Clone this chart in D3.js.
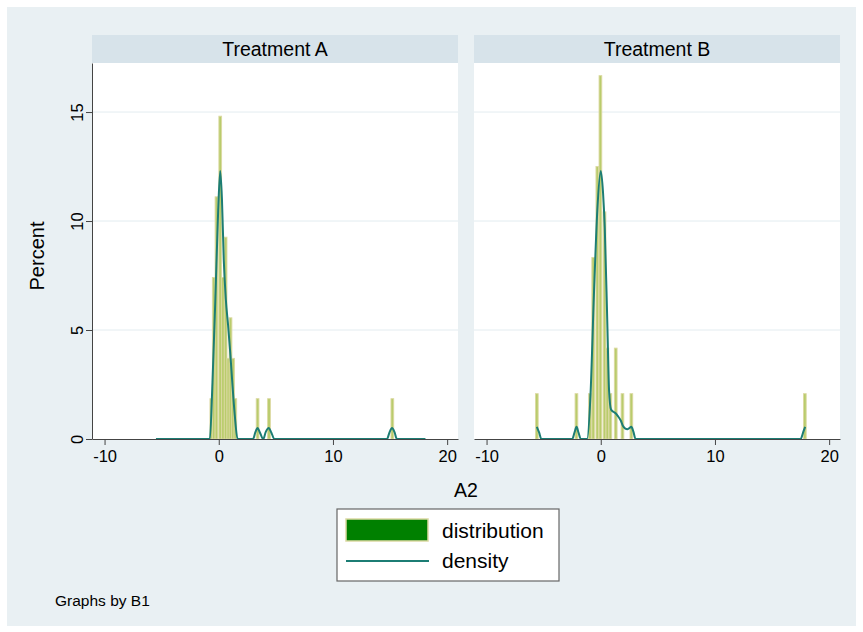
<!DOCTYPE html>
<html>
<head>
<meta charset="utf-8">
<script src="https://cdn.jsdelivr.net/npm/d3@7"></script>
<style>
  body { margin: 0; background: #fff; }
  svg { display: block; font-family: "Liberation Sans", Arial, Helvetica, sans-serif; }
</style>
</head>
<body>
<div id="chart"></div>
<script>
// panels (by B1)
var panels = ['Treatment A', 'Treatment B'];

// histogram bars: bin centre on A2, percent
var barsA = [
    [-0.65, 1.85], [-0.44, 7.41], [-0.2, 11.11], [0.13, 14.81], [0.37, 7.41],
    [0.6, 9.26], [0.84, 3.70], [1.03, 5.56], [1.25, 3.70], [1.45, 1.85],
    [3.4, 1.85], [4.4, 1.85], [15.2, 1.85]
];
var barsB = [
    [-5.6, 2.08], [-2.13, 2.08], [-0.95, 2.08], [-0.66, 8.33], [-0.3, 12.5],
    [-0.03, 16.67], [0.33, 10.42], [0.58, 4.17], [0.84, 2.08], [1.31, 4.17],
    [1.9, 2.08], [2.68, 2.08], [17.87, 2.08]
];

// kernel density (A2, percent scale)
var densA = [
    [-5.5, 0], [-0.78, 0], [-0.55, 2.6], [-0.3, 6.4], [-0.05, 10.5], [0.13, 12.3],
    [0.28, 11.0], [0.44, 8.2], [0.62, 6.4], [0.82, 5.2], [1.0, 4.0], [1.17, 2.7],
    [1.4, 1.1], [1.65, 0], [3.0, 0], [3.2, 0.3], [3.4, 0.5], [3.6, 0.3], [3.9, 0],
    [4.1, 0.3], [4.38, 0.5], [4.6, 0.3], [4.87, 0], [14.73, 0], [14.95, 0.3],
    [15.17, 0.5], [15.4, 0.3], [15.6, 0], [18.1, 0]
];
var densB = [
    [-5.6, 0.56], [-5.4, 0.3], [-5.2, 0], [-2.5, 0], [-2.3, 0.3], [-2.12, 0.56],
    [-1.95, 0.3], [-1.75, 0], [-1.2, 0], [-0.9, 2.0], [-0.6, 6.6], [-0.3, 10.5],
    [0, 12.3], [0.2, 11.3], [0.35, 9.7], [0.58, 5.2], [0.73, 2.2], [0.9, 1.35],
    [1.1, 1.25], [1.3, 1.18], [1.5, 1.05], [1.75, 0.85], [1.95, 0.6], [2.15, 0.48],
    [2.33, 0.45], [2.5, 0.5], [2.68, 0.56], [2.85, 0.35], [3.05, 0], [17.5, 0],
    [17.75, 0.35], [17.9, 0.56]
];

var xTicks = [-10, 0, 10, 20];
var yTicks = [0, 5, 10, 15];
var binWidth = 0.24;
var legendLabels = ['distribution', 'density'];

var width = 863, height = 632;
var plotTop = 63, plotBottom = 439, plotW = 366;
var panelLeft = [92, 474];
var stripTop = 35;

var barFill = '#b9cc6c', barLine = '#dcd9a2', densColor = '#1c7d74';

var svg = d3.select('#chart').append('svg')
    .attr('width', width)
    .attr('height', height);

svg.append('rect')
    .attr('x', 7).attr('y', 7)
    .attr('width', 849).attr('height', 619)
    .attr('fill', '#e9f0f3');

var y = d3.scaleLinear()
    .domain([0, 17.25])
    .range([plotBottom, plotTop]);

var data = [
    {bars: barsA, dens: densA},
    {bars: barsB, dens: densB}
];

panels.forEach(function (name, i) {
    var left = panelLeft[i];
    var x = d3.scaleLinear()
        .domain([-11.1, 20.95])
        .range([left, left + plotW]);

    var g = svg.append('g');

    // strip
    g.append('rect')
        .attr('x', left).attr('y', stripTop)
        .attr('width', plotW).attr('height', plotTop - stripTop)
        .attr('fill', '#d7e3ea');
    g.append('text')
        .attr('x', left + plotW / 2).attr('y', 56)
        .attr('text-anchor', 'middle')
        .attr('font-size', 19.5)
        .attr('fill', '#000')
        .text(name);

    // plot region
    g.append('rect')
        .attr('x', left).attr('y', plotTop)
        .attr('width', plotW).attr('height', plotBottom - plotTop)
        .attr('fill', '#fff');

    g.selectAll('line.grid')
        .data(yTicks.filter(function (d) { return d > 0; }))
        .enter().append('line')
        .attr('class', 'grid')
        .attr('x1', left).attr('x2', left + plotW)
        .attr('y1', function (d) { return y(d); })
        .attr('y2', function (d) { return y(d); })
        .attr('stroke', '#e3ecf0')
        .attr('stroke-width', 1);

    var bw = x(binWidth) - x(0);
    g.selectAll('rect.bar')
        .data(data[i].bars)
        .enter().append('rect')
        .attr('class', 'bar')
        .attr('x', function (d) { return x(d[0]) - bw / 2; })
        .attr('y', function (d) { return y(d[1]); })
        .attr('width', bw)
        .attr('height', function (d) { return y(0) - y(d[1]); })
        .attr('fill', barFill)
        .attr('stroke', barLine)
        .attr('stroke-width', 0.9);

    var line = d3.line()
        .x(function (d) { return x(d[0]); })
        .y(function (d) { return y(d[1]); })
        .curve(d3.curveMonotoneX);

    g.append('path')
        .datum(data[i].dens)
        .attr('d', line)
        .attr('fill', 'none')
        .attr('stroke', densColor)
        .attr('stroke-width', 2);

    var xAxis = d3.axisBottom(x)
        .tickValues(xTicks)
        .tickFormat(function (d) { return String(d); })
        .tickSizeOuter(0)
        .tickSizeInner(6)
        .tickPadding(5);
    var xg = g.append('g')
        .attr('transform', 'translate(0,' + plotBottom + ')')
        .call(xAxis);
    xg.select('.domain').attr('stroke', '#444');
    xg.selectAll('.tick line').attr('stroke', '#444');
    xg.selectAll('.tick text')
        .attr('font-size', 16.5)
        .attr('fill', '#000')
        .attr('font-family', '"Liberation Sans", Arial, sans-serif');

    if (i === 0) {
        var yAxis = d3.axisLeft(y)
            .tickValues(yTicks)
            .tickSizeOuter(0)
            .tickSizeInner(6);
        var yg = g.append('g')
            .attr('transform', 'translate(' + left + ',0)')
            .call(yAxis);
        yg.select('.domain').attr('stroke', '#444');
        yg.selectAll('.tick line').attr('stroke', '#444');
        yg.selectAll('.tick text').remove();
        yg.selectAll('.tick').append('text')
            .attr('transform', 'translate(-9,0) rotate(-90)')
            .attr('text-anchor', 'middle')
            .attr('font-size', 16.5)
            .attr('fill', '#000')
            .text(function (d) { return d; });
    }
});

// axis titles
svg.append('text')
    .attr('x', 466).attr('y', 497)
    .attr('text-anchor', 'middle')
    .attr('font-size', 19.5)
    .attr('fill', '#000')
    .text('A2');

svg.append('text')
    .attr('transform', 'translate(44,256) rotate(-90)')
    .attr('text-anchor', 'middle')
    .attr('font-size', 20)
    .attr('fill', '#000')
    .text('Percent');

// legend
var lg = svg.append('g');
lg.append('rect')
    .attr('x', 337).attr('y', 509)
    .attr('width', 222).attr('height', 72)
    .attr('fill', '#fff')
    .attr('stroke', '#666')
    .attr('stroke-width', 1.2);
lg.append('rect')
    .attr('x', 346).attr('y', 519)
    .attr('width', 82).attr('height', 22)
    .attr('fill', '#008000')
    .attr('stroke', barLine)
    .attr('stroke-width', 1.5);
lg.append('line')
    .attr('x1', 346).attr('x2', 429)
    .attr('y1', 561).attr('y2', 561)
    .attr('stroke', densColor)
    .attr('stroke-width', 2);
lg.selectAll('text.lab')
    .data(legendLabels)
    .enter().append('text')
    .attr('class', 'lab')
    .attr('x', 442)
    .attr('y', function (d, i) { return 538 + i * 30; })
    .attr('font-size', 21)
    .attr('fill', '#000')
    .text(function (d) { return d; });

svg.append('text')
    .attr('x', 55).attr('y', 606)
    .attr('font-size', 15.5)
    .attr('fill', '#000')
    .text('Graphs by B1');
</script>
</body>
</html>
